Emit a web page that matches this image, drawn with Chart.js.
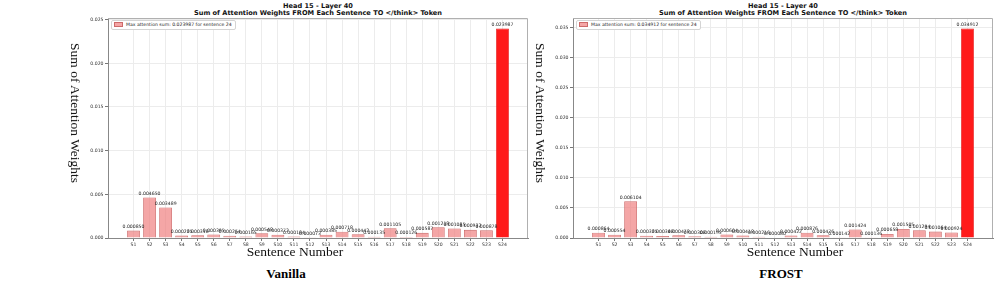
<!DOCTYPE html>
<html>
<head>
<meta charset="utf-8">
<script src="https://cdn.jsdelivr.net/npm/chart.js@4.4.0/dist/chart.umd.min.js"></script>
<style>
    body { margin: 0; width: 996px; height: 289px; background: #fff; position: relative; overflow: hidden; font-family: "DejaVu Sans", sans-serif; }
    .box { position: absolute; top: 0; width: 470px; height: 250px; }
    .title { position: absolute; width: 420px; text-align: center; font-weight: bold; font-size: 6.6px; line-height: 7px; color: #111; }
    .legend { position: absolute; top: 20px; background: #fff; border: 1px solid #d4d4d4; border-radius: 2px; padding: 1px 3px 1px 2px; font-size: 4.6px; color: #222; white-space: nowrap; line-height: 6px; }
    .legend .sw { display: inline-block; width: 7px; height: 3px; background: #f5a6a6; border: 0.8px solid #cd6a6a; vertical-align: middle; margin-right: 3px; }
    .ylab { position: absolute; font-family: "Liberation Serif", serif; font-size: 13.5px; white-space: nowrap; transform: translate(-50%, -50%) rotate(90deg); color: #111; }
    .xlab { position: absolute; font-family: "Liberation Serif", serif; font-size: 13.5px; white-space: nowrap; transform: translateX(-50%); color: #111; }
    .cap { position: absolute; font-family: "Liberation Serif", serif; font-weight: bold; font-size: 13px; white-space: nowrap; transform: translateX(-50%); color: #000; }
</style>
</head>
<body>

<div class="title" style="left:108px; top:3px;">Head 15 - Layer 40<br>Sum of Attention Weights FROM Each Sentence TO &lt;/think&gt; Token</div>
<div class="title" style="left:573px; top:3px;">Head 15 - Layer 40<br>Sum of Attention Weights FROM Each Sentence TO &lt;/think&gt; Token</div>

<div class="box" style="left:70px;"><canvas id="vanillaChart"></canvas></div>
<div class="box" style="left:535px;"><canvas id="frostChart"></canvas></div>

<div class="legend" id="vanillaLegend" style="left:111px;"><span class="sw"></span><span class="txt"></span></div>
<div class="legend" id="frostLegend" style="left:576px;"><span class="sw"></span><span class="txt"></span></div>

<div class="ylab" style="left:75px; top:113px;">Sum of Attention Weights</div>
<div class="ylab" style="left:540px; top:113px;">Sum of Attention Weights</div>

<div class="xlab" style="left:295px; top:244px;">Sentence Number</div>
<div class="xlab" style="left:795px; top:244px;">Sentence Number</div>

<div class="cap" style="left:286px; top:266px;">Vanilla</div>
<div class="cap" style="left:781px; top:266px;">FROST</div>

<script>
// Data
const sentences = ['S1', 'S2', 'S3', 'S4', 'S5', 'S6', 'S7', 'S8', 'S9', 'S10', 'S11', 'S12',
                   'S13', 'S14', 'S15', 'S16', 'S17', 'S18', 'S19', 'S20', 'S21', 'S22', 'S23', 'S24'];

const vanillaValues = [0.000850, 0.004650, 0.003489, 0.000275, 0.000318, 0.000395, 0.000254, 0.000165,
                       0.000548, 0.000372, 0.000184, 0.000073, 0.000385, 0.000718, 0.000442, 0.000135,
                       0.001105, 0.000126, 0.000587, 0.001218, 0.001085, 0.000932, 0.000878, 0.023987];

const frostValues = [0.000864, 0.000554, 0.006104, 0.000375, 0.000348, 0.000478, 0.000308, 0.000195,
                     0.000604, 0.000418, 0.000216, 0.000080, 0.000422, 0.000876, 0.000476, 0.000142,
                     0.001424, 0.000136, 0.000658, 0.001505, 0.001294, 0.001064, 0.000924, 0.034912];

const vanillaYTicks = [0, 0.005, 0.010, 0.015, 0.020, 0.025];
const frostYTicks = [0, 0.005, 0.010, 0.015, 0.020, 0.025, 0.030, 0.035];

// Value labels on top of each bar
const valueLabels = {
    id: 'valueLabels',
    afterDatasetsDraw(chart) {
        const ctx = chart.ctx;
        const meta = chart.getDatasetMeta(0);
        const values = chart.data.datasets[0].data;
        ctx.save();
        ctx.font = '4.6px "DejaVu Sans"';
        ctx.fillStyle = '#222';
        ctx.textAlign = 'center';
        ctx.textBaseline = 'bottom';
        meta.data.forEach((bar, i) => {
            ctx.fillText(values[i].y.toFixed(6), bar.x, bar.y - 1.5);
        });
        ctx.restore();
    }
};

// Top and right spines
const frame = {
    id: 'frame',
    afterDraw(chart) {
        const a = chart.chartArea;
        const ctx = chart.ctx;
        ctx.save();
        ctx.strokeStyle = '#b0b0b0';
        ctx.lineWidth = 1;
        ctx.beginPath();
        ctx.moveTo(a.left, a.top + 0.5);
        ctx.lineTo(a.right - 0.5, a.top + 0.5);
        ctx.lineTo(a.right - 0.5, a.bottom);
        ctx.stroke();
        ctx.restore();
    }
};

function makeChart(canvasId, values, yTicks, legendId) {
    const maxVal = Math.max(...values);
    const maxIdx = values.indexOf(maxVal);
    const n = sentences.length;

    document.querySelector('#' + legendId + ' .txt').textContent =
        'Max attention sum: ' + maxVal.toFixed(6) + ' for sentence ' + (maxIdx + 1);

    return new Chart(document.getElementById(canvasId), {
        type: 'bar',
        data: {
            datasets: [{
                data: values.map((v, i) => ({ x: i, y: v })),
                backgroundColor: values.map((v, i) => i === maxIdx ? '#ff1a1a' : 'rgba(240,128,128,0.7)'),
                borderColor: values.map((v, i) => i === maxIdx ? '#e61414' : '#cd6a6a'),
                borderWidth: 0.8,
                barPercentage: 1.0,
                categoryPercentage: 0.8
            }]
        },
        options: {
            responsive: true,
            maintainAspectRatio: false,
            animation: false,
            layout: { padding: { top: 18, right: 12, left: 0, bottom: 0 } },
            plugins: {
                legend: { display: false },
                tooltip: { enabled: false }
            },
            scales: {
                x: {
                    type: 'linear',
                    min: -1.59,
                    max: n - 1 + 1.59,
                    offset: false,
                    afterBuildTicks: s => { s.ticks = sentences.map((_, i) => ({ value: i })); },
                    afterFit: s => { s.height = 12; },
                    ticks: {
                        autoSkip: false,
                        maxRotation: 0,
                        padding: 1,
                        font: { size: 4.6, family: 'DejaVu Sans' },
                        color: '#333',
                        callback: v => sentences[v]
                    },
                    grid: { offset: false, color: '#ececec', tickColor: '#777', tickLength: 3 },
                    border: { color: '#888', width: 1 }
                },
                y: {
                    min: 0,
                    max: maxVal * 1.05,
                    afterBuildTicks: s => { s.ticks = yTicks.map(v => ({ value: v })); },
                    afterFit: s => { s.width = 38; },
                    ticks: {
                        padding: 1.5,
                        font: { size: 4.6, family: 'DejaVu Sans' },
                        color: '#333',
                        callback: v => v.toFixed(3)
                    },
                    grid: { color: '#ececec', tickColor: '#777', tickLength: 3 },
                    border: { color: '#888', width: 1 }
                }
            }
        },
        plugins: [valueLabels, frame]
    });
}

makeChart('vanillaChart', vanillaValues, vanillaYTicks, 'vanillaLegend');
makeChart('frostChart', frostValues, frostYTicks, 'frostLegend');
</script>
</body>
</html>
